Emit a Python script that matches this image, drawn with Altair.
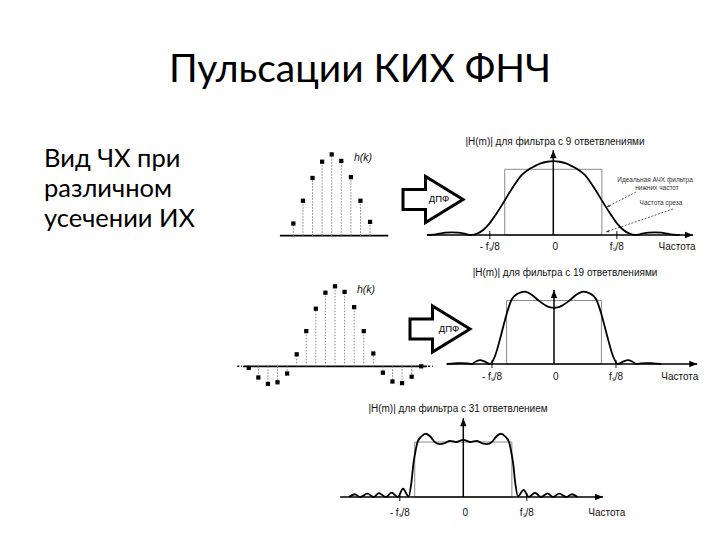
import altair as alt
import pandas as pd

# ---------------- values ----------------
slide_title = "Пульсации КИХ ФНЧ"
side_lines = ["Вид ЧХ при", "различном", "усечении ИХ"]

taps9_k = [-4, -3, -2, -1, 0, 1, 2, 3, 4]
taps9_h = [0.15, 0.43, 0.71, 0.91, 1.00, 0.92, 0.72, 0.43, 0.17]

taps19_k = [-9, -8, -7, -6, -5, -4, -3, -2, -1, 0, 1, 2, 3, 4, 5, 6, 7, 8, 9]
taps19_h = [-0.02, -0.14, -0.22, -0.20, -0.09, 0.15, 0.44, 0.72, 0.92, 1.00,
            0.93, 0.74, 0.44, 0.16, -0.08, -0.19, -0.21, -0.13, 0.00]

resp9_f = [-1.99, -1.9, -1.8, -1.7, -1.6, -1.5, -1.4, -1.29, -1.2, -1.1, -1.0, -0.9, -0.8,
           -0.7, -0.6, -0.5, -0.4, -0.3, -0.2, -0.1, 0.0, 0.1, 0.2, 0.3, 0.4, 0.5, 0.6, 0.7,
           0.8, 0.9, 1.0, 1.1, 1.2, 1.29, 1.4, 1.5, 1.6, 1.7, 1.8, 1.9, 1.99]
resp9_m = [0.0, 0.005, 0.02, 0.035, 0.04, 0.035, 0.02, 0.0, 0.02, 0.08, 0.18, 0.32, 0.47,
           0.63, 0.78, 0.91, 0.99, 1.045, 1.09, 1.115, 1.125, 1.115, 1.09, 1.045, 0.99, 0.91,
           0.78, 0.63, 0.47, 0.32, 0.18, 0.08, 0.02, 0.0, 0.02, 0.035, 0.04, 0.035, 0.02, 0.005, 0.0]

resp19_f = [-1.73, -1.6, -1.5, -1.4, -1.33, -1.26, -1.19, -1.12, -1.03, -0.95, -0.85, -0.76,
            -0.68, -0.58, -0.47, -0.36, -0.25, -0.14, -0.06, 0.0, 0.06, 0.14, 0.25, 0.36, 0.47,
            0.58, 0.68, 0.76, 0.85, 0.95, 1.03, 1.12, 1.19, 1.26, 1.33, 1.4, 1.5, 1.6, 1.73]
resp19_m = [0.0, 0.01, 0.015, 0.01, 0.0, 0.04, 0.06, 0.04, 0.0, 0.13, 0.47, 0.80, 1.02, 1.11,
            1.14, 1.09, 1.0, 0.925, 0.89, 0.885, 0.89, 0.925, 1.0, 1.09, 1.14, 1.11, 1.02, 0.80,
            0.47, 0.13, 0.0, 0.04, 0.06, 0.04, 0.0, 0.01, 0.015, 0.01, 0.0]

resp31_f = [-1.80, -1.71, -1.62, -1.51, -1.41, -1.33, -1.22, -1.13, -1.03, -0.95, -0.86, -0.82,
            -0.785, -0.75, -0.72, -0.66, -0.59, -0.52, -0.45, -0.37, -0.29, -0.21, -0.11, 0.0,
            0.11, 0.21, 0.29, 0.37, 0.45, 0.52, 0.59, 0.66, 0.72, 0.75, 0.785, 0.82, 0.86, 0.95,
            1.03, 1.13, 1.22, 1.33, 1.41, 1.51, 1.62, 1.71, 1.80]
resp31_m = [0.0, 0.05, 0.0, 0.06, 0.0, 0.07, 0.0, 0.08, 0.0, 0.15, 0.01, 0.24, 0.61, 0.85, 1.0,
            1.10, 1.15, 1.10, 1.0, 0.96, 0.98, 1.02, 1.0, 1.04, 1.0, 1.02, 0.98, 0.96, 1.0, 1.10,
            1.15, 1.10, 1.0, 0.85, 0.61, 0.24, 0.01, 0.13, 0.0, 0.075, 0.0, 0.065, 0.0, 0.06, 0.0,
            0.05, 0.0]

panel_titles = ["|H(m)| для фильтра с 9 ответвлениями",
                "|H(m)| для фильтра с 19 ответвлениями",
                "|H(m)| для фильтра с 31 ответвлением"]
tick_f = [-1.0, 0.03, 1.0]
tick_text = ["- fₛ/8", "0", "fₛ/8"]
freq_word = "Частота"
ideal_cutoff = 0.765
ideal_level = 1.0
note_ideal = ["Идеальная АЧХ фильтра", "нижних частот"]
note_cutoff = "Частота среза"
dft_label = "ДПФ"
stem_label = "h(k)"

# ---------------- layout (reference-pixel frames of each panel) ----------------
W, H, M = 704, 524, 8
GEO = {
    "s1": dict(x0=331.7, ux=9.59, y0=235.7, uy=81.3, kmin=-5.4, kmax=5.9),
    "s2": dict(x0=335.0, ux=9.58, y0=366.3, uy=80.0, kmin=-9.6, kmax=9.6),
    "f1": dict(x0=553.3, ux=63.5, y0=235.0, uy=65.7, fmin=-1.99, fmax=2.2, top=1.29, lab=12.0, word_f=1.95),
    "f2": dict(x0=554.0, ux=62.0, y0=364.0, uy=63.5, fmin=-1.73, fmax=2.31, top=1.165, lab=12.5, word_f=2.03),
    "f3": dict(x0=463.3, ux=63.5, y0=497.0, uy=55.0, fmin=-1.94, fmax=2.2, top=1.43, lab=16.0, word_f=2.26),
}
FIG_FONT = "Liberation Sans"
SLIDE_FONT = "Lato"


def xscale(g):
    return alt.Scale(domain=[(M - g["x0"]) / g["ux"], (M + W - g["x0"]) / g["ux"]], nice=False, zero=False)


def yscale(g):
    return alt.Scale(domain=[(g["y0"] - (M + H)) / g["uy"], (g["y0"] - M) / g["uy"]], nice=False, zero=False)


def enc(g):
    sx, sy = xscale(g), yscale(g)
    return (lambda f: alt.X(f, type="quantitative", scale=sx, axis=None),
            lambda f: alt.Y(f, type="quantitative", scale=sy, axis=None))


ONE = pd.DataFrame({"a": [0]})
TIP_RIGHT = "M0,0 L-1,-0.4 L-1,0.4 Z"
TIP_UP = "M0,0 L-0.4,1 L0.4,1 Z"
BLOCK_ARROW = "M-1,-0.33 L-0.25,-0.33 L-0.25,-0.77 L1,0 L-0.25,0.77 L-0.25,0.33 L-1,0.33 Z"


def at(x, y):
    return dict(x=alt.value(x - M), y=alt.value(y - M))


def text_layer(txt, x, y, size, font=FIG_FONT, align="center", style=None, color="black", baseline="middle"):
    kw = dict(fontSize=size, font=font, align=align, baseline=baseline, color=color)
    if style:
        kw["fontStyle"] = style
    return alt.Chart(ONE).mark_text(**kw).encode(text=alt.value(txt), **at(x, y))


def freq_panel(g, f, m, title, title_xy):
    X, Y = enc(g)
    L = []
    ideal = pd.DataFrame({"f": [-ideal_cutoff], "f2": [ideal_cutoff], "m": [0.0], "m2": [ideal_level]})
    L.append(alt.Chart(ideal).mark_rect(fillOpacity=0, stroke="#8a8a8a", strokeWidth=1)
             .encode(x=X("f"), x2="f2", y=Y("m"), y2="m2"))
    hax = pd.DataFrame({"f": [g["fmin"]], "f2": [g["fmax"]], "m": [0.0]})
    L.append(alt.Chart(hax).mark_rule(color="black", strokeWidth=1.5).encode(x=X("f"), x2="f2", y=Y("m")))
    vax = pd.DataFrame({"f": [0.0], "m": [0.0], "m2": [g["top"]]})
    L.append(alt.Chart(vax).mark_rule(color="black", strokeWidth=1.5).encode(x=X("f"), y=Y("m"), y2="m2"))
    tk = pd.DataFrame({"f": [-1.0, 1.0], "m": [0.0, 0.0]})
    L.append(alt.Chart(tk).mark_tick(orient="vertical", size=8, thickness=1.3, color="black")
             .encode(x=X("f"), y=Y("m")))
    L.append(alt.Chart(pd.DataFrame({"f": [g["fmax"]], "m": [0.0]}))
             .mark_point(shape=TIP_RIGHT, size=256, filled=True, color="black", opacity=1)
             .encode(x=X("f"), y=Y("m")))
    L.append(alt.Chart(pd.DataFrame({"f": [0.0], "m": [g["top"]]}))
             .mark_point(shape=TIP_UP, size=256, filled=True, color="black", opacity=1)
             .encode(x=X("f"), y=Y("m")))
    curve = pd.DataFrame({"f": f, "m": m, "i": list(range(len(f)))})
    L.append(alt.Chart(curve).mark_line(color="black", strokeWidth=1.8, interpolate="monotone")
             .encode(x=X("f"), y=Y("m"), order="i"))
    lm = -g["lab"] / g["uy"]
    labs = pd.DataFrame({"f": tick_f + [g["word_f"]], "m": [lm] * 4, "t": tick_text + [freq_word]})
    L.append(alt.Chart(labs).mark_text(fontSize=10, font=FIG_FONT, align="center", baseline="middle", color="#111")
             .encode(x=X("f"), y=Y("m"), text="t"))
    L.append(text_layer(title, title_xy[0], title_xy[1], 10, color="#111"))
    return L


def stem_panel(g, k, h, label_xy, tails=False):
    X, Y = enc(g)
    L = []
    base = pd.DataFrame({"k": [g["kmin"]], "k2": [g["kmax"]], "z": [0.0]})
    L.append(alt.Chart(base).mark_rule(color="black", strokeWidth=1.8).encode(x=X("k"), x2="k2", y=Y("z")))
    if tails:
        t = pd.DataFrame({"k": [g["kmin"] - 0.6, g["kmax"] + 0.1], "k2": [g["kmin"] - 0.1, g["kmax"] + 0.6], "z": [0.0, 0.0]})
        L.append(alt.Chart(t).mark_rule(color="black", strokeWidth=1.5, strokeDash=[2, 2])
                 .encode(x=X("k"), x2="k2", y=Y("z")))
    d = pd.DataFrame({"k": k, "h": h, "z": [0.0] * len(k)})
    L.append(alt.Chart(d).mark_rule(color="#888", strokeWidth=1, strokeDash=[1.5, 1.5])
             .encode(x=X("k"), y=Y("z"), y2="h"))
    L.append(alt.Chart(d).mark_square(size=18, color="black", opacity=1).encode(x=X("k"), y=Y("h")))
    L.append(text_layer(stem_label, label_xy[0], label_xy[1], 10.5, style="italic", color="#111"))
    return L


layers = []
# slide text
layers.append(text_layer(slide_title, 360, 81.7, 39, font=SLIDE_FONT, baseline="alphabetic"))
for i, line in enumerate(side_lines):
    layers.append(text_layer(line, 44, 166.7 + 30 * i, 25.5, font=SLIDE_FONT, align="left", baseline="alphabetic"))

# impulse responses
layers += stem_panel(GEO["s1"], taps9_k, taps9_h, (363, 158))
layers += stem_panel(GEO["s2"], taps19_k, taps19_h, (366, 290), tails=True)

# DFT block arrows
for cx, cy, tx, ty in [(433, 199.5, 439, 199), (440, 329, 449, 329)]:
    layers.append(alt.Chart(ONE).mark_point(shape=BLOCK_ARROW, size=3600, filled=True, fill="white",
                                            stroke="black", strokeWidth=3, opacity=1).encode(**at(cx, cy)))
    layers.append(text_layer(dft_label, tx, ty, 9.5))

# frequency responses
layers += freq_panel(GEO["f1"], resp9_f, resp9_m, panel_titles[0], (555, 142))
layers += freq_panel(GEO["f2"], resp19_f, resp19_m, panel_titles[1], (565, 273))
layers += freq_panel(GEO["f3"], resp31_f, resp31_m, panel_titles[2], (458, 409))

# annotations in the first response
layers.append(text_layer(note_ideal[0], 655, 180, 6.5, color="#333"))
layers.append(text_layer(note_ideal[1], 657, 188, 6.5, color="#333"))
layers.append(text_layer(note_cutoff, 661, 203, 6.5, color="#333"))
for (x1, y1, x2, y2, ang) in [(636, 192, 607, 207, 152.7), (673, 209, 606, 232, 161.1)]:
    layers.append(alt.Chart(ONE).mark_rule(color="#333", strokeWidth=0.8, strokeDash=[2, 1.5])
                  .encode(x=alt.value(x1 - M), y=alt.value(y1 - M), x2=alt.value(x2 - M), y2=alt.value(y2 - M)))
    layers.append(alt.Chart(ONE).mark_point(shape=TIP_RIGHT, size=36, filled=True, color="#333", opacity=1, angle=ang)
                  .encode(**at(x2, y2)))

chart = (alt.layer(*layers)
         .resolve_scale(x="independent", y="independent")
         .properties(width=W, height=H, padding=0, autosize=alt.AutoSizeParams(type="none"),
                     background="white")
         .configure_view(stroke=None))

chart.save("out.html", embed_options={"renderer": "svg", "actions": False})
